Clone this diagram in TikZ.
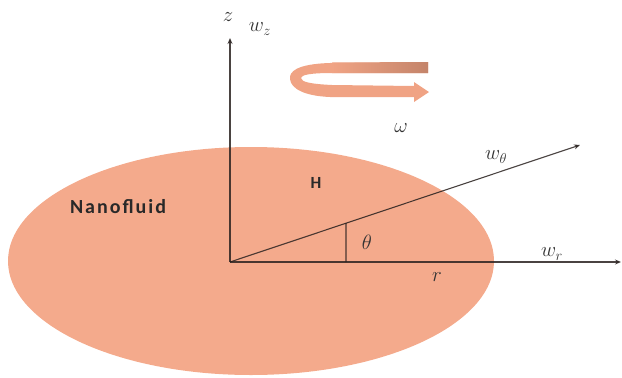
\documentclass[tikz,border=0pt]{standalone}
\usepackage{fontspec}
\newfontfamily\labfont{Carlito}
\newfontfamily\nanofont[LetterSpace=10]{Carlito}
\usetikzlibrary{arrows.meta,calc}
\definecolor{fluid}{HTML}{F4AA8C}
\definecolor{ribbon}{HTML}{F0A384}
\definecolor{ribbondark}{HTML}{C4846A}
\definecolor{axis}{HTML}{2A2220}
\definecolor{labc}{HTML}{333333}
\tikzset{
  axisline/.style={draw=axis, line width=1.1pt, opacity=0.85},
  axisarrow/.style={axisline, -{Stealth[length=6pt,width=5pt]}},
  mlab/.style={text=labc, font=\fontsize{20}{24}\selectfont, inner sep=0pt},
  tlab/.style={text=labc!80!black, inner sep=0pt}
}
\begin{document}
\begin{tikzpicture}[x=1pt,y=-1pt]
\useasboundingbox (0,0) rectangle (622,378);
% nanofluid ellipse
\fill[fluid] (251,261) ellipse [x radius=243, y radius=114];
% rotation ribbon
\fill[ribbon] (428,62) -- (330,63) .. controls (296,64) and (289,72) .. (290,79)
  .. controls (291,89) and (305,96) .. (330,97) -- (414,97) -- (414,102) -- (429,92)
  -- (414,82) -- (414,86) -- (332,85) .. controls (311,84) and (301,82) .. (301,78)
  .. controls (301,75) and (310,73) .. (332,73) -- (428,73) -- cycle;
\shade[left color=ribbon, right color=ribbondark] (332,62.5) -- (428,62) -- (428,73) -- (332,73) -- cycle;
% axes
\coordinate (O) at (230,262);
\coordinate (zend) at (230,38);
\coordinate (rend) at (621,262);
\coordinate (tend) at (580,145);
\coordinate (foot) at (346,262);
\coordinate (top) at ($(O)!0.3314!(tend)$);
\draw[axisarrow] (O) -- (zend);
\draw[axisarrow] (O) -- (rend);
\draw[axisarrow] (O) -- (tend);
\draw[axisline] (foot) -- (top);
% labels
\node[mlab] (lz) at (228,17) {$z$};
\node[mlab] (lwz) at (260,29) {$w_z$};
\node[mlab] (lom) at (401,128) {$\omega$};
\node[mlab] (lwt) at (496,157) {$w_\theta$};
\node[mlab] (lth) at (367,242) {$\theta$};
\node[mlab] (lr) at (437,277) {$r$};
\node[mlab] (lwr) at (552,254) {$w_r$};
\node[tlab, font=\labfont\bfseries\fontsize{17}{20}\selectfont] (lH) at (316,183) {H};
\node[tlab, font=\nanofont\bfseries\fontsize{20}{24}\selectfont] (lnano) at (118,207) {Nanofluid};
\end{tikzpicture}
\end{document}
